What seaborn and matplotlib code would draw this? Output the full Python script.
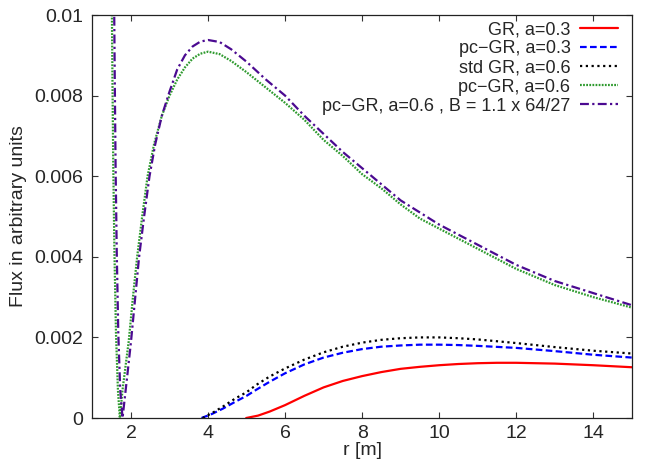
import matplotlib
matplotlib.use("Agg")
import matplotlib.pyplot as plt
import seaborn as sns
import pandas as pd

# Curves
r_gr03 = [4.99, 5.3, 5.6, 6.0, 6.5, 7.0, 7.5, 8.0, 8.5, 9.0, 9.5, 10, 10.5, 11, 11.5, 12, 12.5, 13, 14, 15]
f_gr03 = [0, 0.00006, 0.00016, 0.00032, 0.00055, 0.00076, 0.00092, 0.00104, 0.00114, 0.00122,
          0.00127, 0.00131, 0.00134, 0.00136, 0.00137, 0.00137, 0.00136, 0.00135, 0.00131, 0.00126]

r_pc03 = [3.83, 4.1, 4.38, 4.7, 5.0, 5.25, 5.6, 6.0, 6.5, 7.0, 7.5, 8.0, 8.5, 9.0, 9.5, 10, 10.5, 11, 12, 13, 14, 15]
f_pc03 = [0, 0.0001, 0.00023, 0.0004, 0.00055, 0.0007, 0.0009, 0.00111, 0.00133, 0.0015, 0.00162,
          0.00171, 0.00177, 0.0018, 0.00182, 0.00182, 0.00181, 0.00179, 0.00174, 0.00166, 0.00157, 0.0015]

r_std06 = [3.86, 4.1, 4.38, 4.7, 5.0, 5.25, 5.6, 6.0, 6.5, 7.0, 7.5, 8.0, 8.5, 9.0, 9.5, 10, 10.5, 11, 12, 13, 14, 15]
f_std06 = [0, 0.00012, 0.00028, 0.00048, 0.00064, 0.00082, 0.00103, 0.00123, 0.00145, 0.00163, 0.00177,
           0.00187, 0.00194, 0.00198, 0.0020, 0.0020, 0.00198, 0.00195, 0.00186, 0.00176, 0.00167, 0.0016]

r_pc06 = [1.50, 1.52, 1.54, 1.57, 1.61, 1.66, 1.71, 1.78, 1.86, 1.94, 2.05, 2.16, 2.29, 2.43, 2.6, 2.8,
          3.0, 3.2, 3.4, 3.6, 3.8, 4.0, 4.3, 4.6, 5.0, 5.5, 6.0, 6.5, 7.0, 7.5, 8.0, 8.5, 9.0, 9.5, 10,
          11, 12, 13, 14, 15]
f_pc06 = [0.0105, 0.0082, 0.0062, 0.0041, 0.0021, 0.0007, 0.0, 0.0007, 0.0013, 0.0019, 0.0030, 0.0040,
          0.0050, 0.0060, 0.0068, 0.0075, 0.0080, 0.0084, 0.0087, 0.00892, 0.00904, 0.00909, 0.00903,
          0.00886, 0.00858, 0.0082, 0.00782, 0.0074, 0.0069, 0.0065, 0.00605, 0.0057, 0.0053, 0.00495,
          0.0047, 0.0042, 0.0037, 0.0033, 0.0030, 0.00274]

r_pc06b = [1.56, 1.58, 1.60, 1.63, 1.67, 1.72, 1.78, 1.85, 1.92, 2.0, 2.1, 2.21, 2.34, 2.48, 2.63, 2.8,
           3.0, 3.2, 3.4, 3.6, 3.8, 4.0, 4.3, 4.6, 5.0, 5.5, 6.0, 6.5, 7.0, 7.5, 8.0, 8.5, 9.0, 9.5, 10,
           11, 12, 13, 14, 15]
f_pc06b = [0.0105, 0.0082, 0.0062, 0.0041, 0.0021, 0.0007, 0.0, 0.0006, 0.0012, 0.0019, 0.0029, 0.0040,
           0.0050, 0.0060, 0.0068, 0.0075, 0.0081, 0.00865, 0.0090, 0.00922, 0.00934, 0.00938, 0.00933,
           0.00915, 0.00884, 0.0084, 0.0080, 0.0075, 0.00705, 0.0066, 0.0062, 0.0058, 0.0054, 0.0051,
           0.0048, 0.0043, 0.0038, 0.0034, 0.0031, 0.0028]

labels = ["GR, a=0.3", "pc\u2212GR, a=0.3", "std GR, a=0.6", "pc\u2212GR, a=0.6",
          "pc\u2212GR, a=0.6 , B = 1.1 x 64/27"]
xticks = [2, 4, 6, 8, 10, 12, 14]
yticks = [0, 0.002, 0.004, 0.006, 0.008, 0.01]
ytick_labels = ["0", "0.002", "0.004", "0.006", "0.008", "0.01"]

sns.set_style("ticks")
plt.rcParams['font.family'] = ['Liberation Sans', 'DejaVu Sans']

fig = plt.figure(figsize=(6.56, 4.59), dpi=100)
ax = fig.add_axes([0.141, 0.0893, 0.822, 0.878])

series = [
    (r_gr03, f_gr03, "#ff0000", "-"),
    (r_pc03, f_pc03, "#0000ff", (0, (3, 1.5))),
    (r_std06, f_std06, "#000000", (0, (1, 1.6))),
    (r_pc06, f_pc06, "#2e9a2e", (0, (0.8, 0.6))),
    (r_pc06b, f_pc06b, "#4b0a91", (0, (4, 1.5, 1, 1.5))),
]
for (r, f, col, ls), lab in zip(series, labels):
    df = pd.DataFrame({"r": r, "flux": f})
    sns.lineplot(data=df, x="r", y="flux", ax=ax, color=col, linestyle=ls,
                 linewidth=1.6, label=lab, sort=False)

ax.set_xlim(1, 15)
ax.set_ylim(0, 0.01)
ax.set_xticks(xticks)
ax.set_yticks(yticks)
ax.set_yticklabels(ytick_labels)
ax.tick_params(direction="in", top=True, right=True, length=4.5, width=0.8,
               labelsize=14, color="#333333")
ax.tick_params(axis="x", pad=5)
ax.tick_params(axis="y", pad=7)
for sp in ax.spines.values():
    sp.set_linewidth(0.9)
    sp.set_color("#222222")

ax.set_xlabel("r [m]", fontsize=14, labelpad=0)
ax.set_ylabel("Flux in arbitrary units", fontsize=14, labelpad=5)

leg = ax.legend(loc="upper right", bbox_to_anchor=(0.975, 0.985), frameon=False,
                fontsize=13, markerfirst=False, handlelength=2.1, handletextpad=0.55,
                labelspacing=0.12, borderpad=0, borderaxespad=0)

fig.savefig("out.png", dpi=100)
